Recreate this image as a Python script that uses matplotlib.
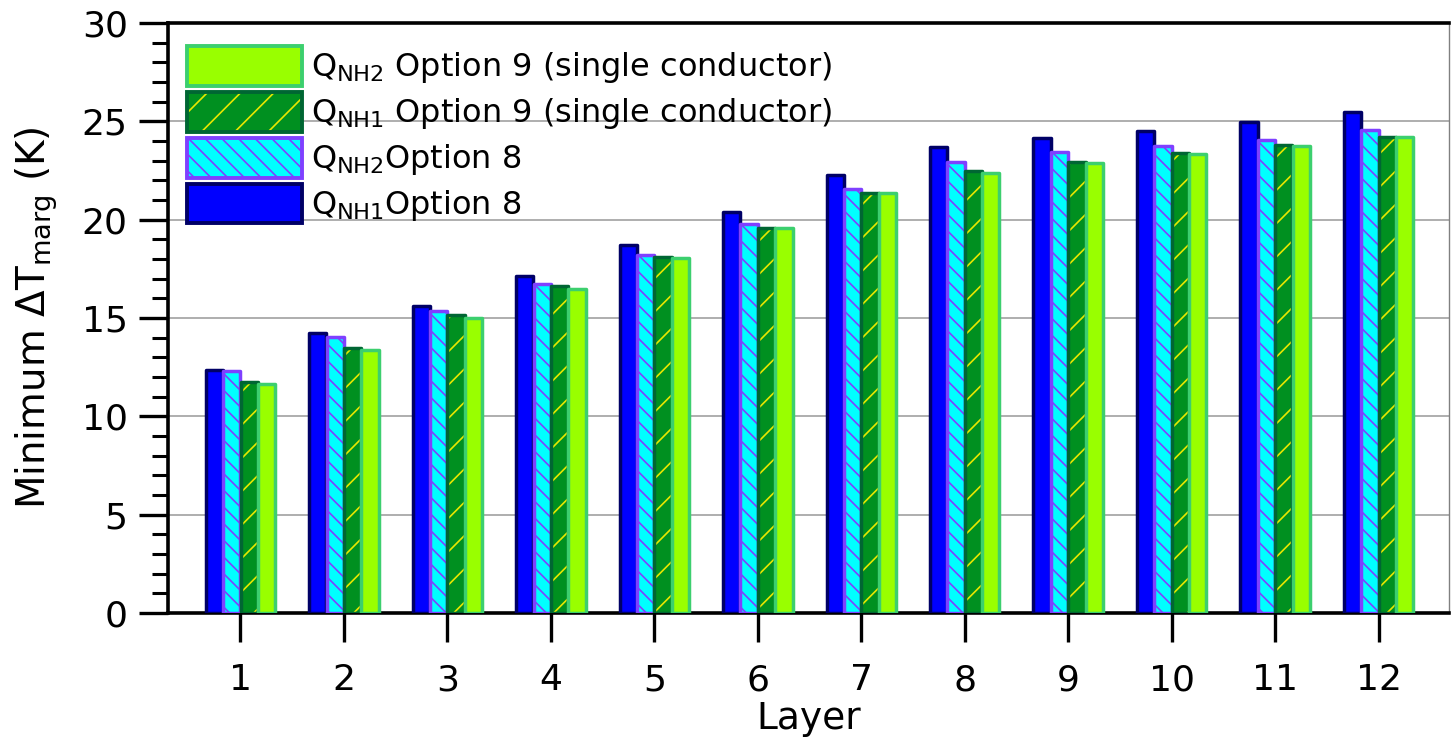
import numpy as np
import matplotlib
matplotlib.use("Agg")
import matplotlib.pyplot as plt
from matplotlib.patches import Patch

plt.rcParams["font.family"] = ["DejaVu Sans"]
plt.rcParams["mathtext.fontset"] = "dejavusans"
plt.rcParams["mathtext.default"] = "regular"
plt.rcParams["hatch.linewidth"] = 1.2

layers = [1, 2, 3, 4, 5, 6, 7, 8, 9, 10, 11, 12]
qnh1_opt8 = [12.38, 14.22, 15.63, 17.14, 18.72, 20.41, 22.28, 23.68, 24.17, 24.53, 24.94, 25.46]
qnh2_opt8 = [12.28, 14.05, 15.38, 16.72, 18.21, 19.77, 21.55, 22.95, 23.42, 23.72, 24.06, 24.57]
qnh1_opt9 = [11.73, 13.46, 15.16, 16.65, 18.12, 19.60, 21.38, 22.48, 22.95, 23.38, 23.80, 24.19]
qnh2_opt9 = [11.65, 13.38, 14.99, 16.46, 18.04, 19.60, 21.34, 22.36, 22.87, 23.35, 23.77, 24.19]

labels = [
    "Q$_{NH1}$Option 8",
    "Q$_{NH2}$Option 8",
    "Q$_{NH1}$ Option 9 (single conductor)",
    "Q$_{NH2}$ Option 9 (single conductor)",
]
# face, edge, hatch pattern, hatch colour
styles = [
    ("#0000ff", "#000066", None, "#0000ff"),
    ("#00ffff", "#7f40ff", "\\\\", "#7f40ff"),
    ("#009020", "#006633", "/", "#e8e800"),
    ("#99ff00", "#3ccf6e", None, "#99ff00"),
]
series = [qnh1_opt8, qnh2_opt8, qnh1_opt9, qnh2_opt9]

fig = plt.figure(figsize=(14.51, 7.39), dpi=100)
ax = fig.add_axes([0.1158, 0.1705, 0.8828, 0.7984])

x = np.array(layers, dtype=float)
step = 0.168
width = 0.167
handles = []
for i, (vals, (fc, ec, hatch, hc)) in enumerate(zip(series, styles)):
    pos = x + (i - 1.5) * step
    ax.bar(pos, vals, width, color=fc, edgecolor=hc, hatch=hatch,
           linewidth=0, zorder=3 + 2 * i)
    ax.bar(pos, vals, width, color="none", edgecolor=ec, linewidth=2.5,
           joinstyle="round", zorder=4 + 2 * i)
    fill = Patch(facecolor=fc, edgecolor=hc, hatch=hatch, linewidth=0)
    outline = Patch(facecolor="none", edgecolor=ec, linewidth=2.8, joinstyle="round")
    handles.append((fill, outline))

ax.set_xlim(0.3, 12.68)
ax.set_ylim(0, 30)
ax.set_xticks(layers)
ax.set_yticks(np.arange(0, 31, 5))
ax.set_yticks(np.arange(0, 31, 1), minor=True)
ax.tick_params(axis="both", which="major", direction="out", length=21, width=2.4,
               labelsize=26, pad=8)
ax.tick_params(axis="y", which="minor", direction="out", length=11.5, width=2.2)
ax.tick_params(axis="x", pad=15)

ax.yaxis.grid(True, color="#a8a8a8", linewidth=1.3)
ax.set_axisbelow(True)

for side in ("left", "bottom", "top"):
    ax.spines[side].set_linewidth(2.6)
    ax.spines[side].set_color("black")
ax.spines["right"].set_linewidth(1.0)
ax.spines["right"].set_color("#808080")

ax.set_xlabel("Layer", fontsize=27, labelpad=3)
ax.set_ylabel("Minimum ΔT$_{marg}$ (K)", fontsize=28, labelpad=16)

leg = ax.legend(handles[::-1], labels[::-1], loc="upper left",
                bbox_to_anchor=(0.0148, 0.961), frameon=False, fontsize=23,
                handlelength=3.6, handleheight=1.54, handletextpad=0.29,
                labelspacing=0.19, borderpad=0, borderaxespad=0)
leg.set_zorder(20)

fig.savefig("out.png", dpi=100)
